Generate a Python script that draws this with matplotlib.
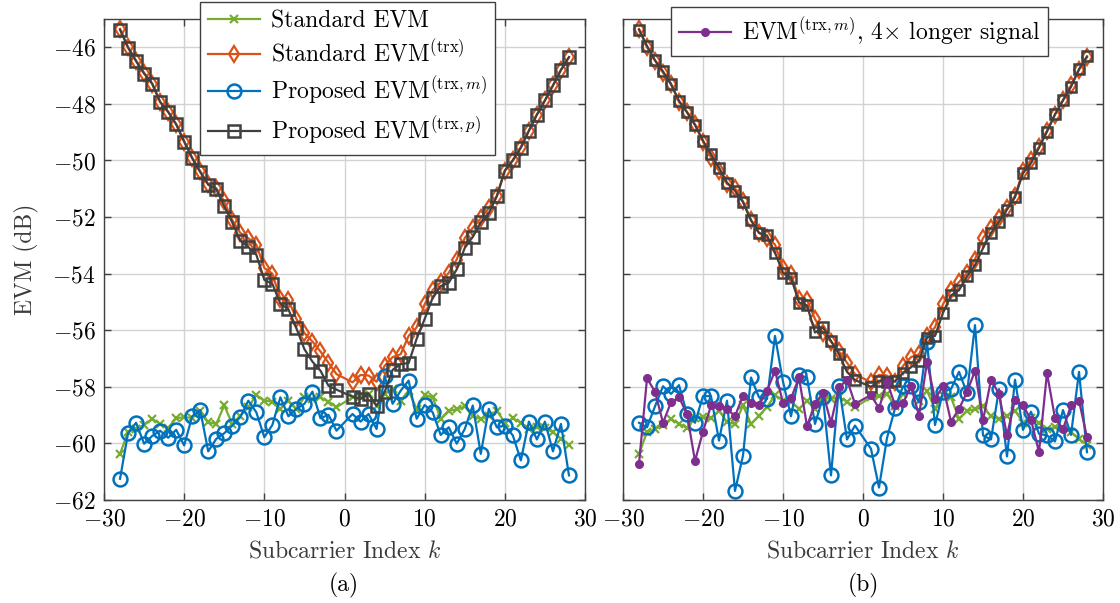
import matplotlib
matplotlib.use("Agg")
import matplotlib.pyplot as plt

FS = 17
plt.rcParams.update({
    "font.family": "serif",
    "font.serif": ["cmr10"],
    "mathtext.fontset": "cm",
    "axes.formatter.use_mathtext": True,
    "font.size": FS,
    "axes.unicode_minus": True,
})

# Subcarrier indices (DC subcarrier excluded)
subcarriers = list(range(-28, 0)) + list(range(1, 29))

# Standard EVM
evm_std = [-60.37, -59.60, -59.49, -59.35, -59.13, -59.31, -59.45, -59.11, -59.07, -59.10,
           -58.84, -59.25, -59.31, -58.66, -59.31, -59.02, -58.72, -58.29, -58.49, -58.52,
           -58.78, -58.49, -58.78, -58.37, -58.43, -58.37, -58.52, -58.72,
           -58.37, -58.31, -58.25, -58.69, -58.25, -58.08, -58.49, -58.14, -58.78, -58.29,
           -58.37, -59.13, -58.84, -58.80, -58.69, -59.04, -59.13, -59.04, -58.84, -59.27,
           -59.11, -59.27, -59.49, -59.43, -59.45, -59.60, -59.84, -60.05]

# Standard EVM^(trx)
evm_std_trx = [-45.35, -46.00, -46.47, -46.90, -47.28, -47.93, -48.28, -48.72, -49.33, -49.90,
               -50.38, -50.83, -50.98, -51.45, -52.10, -52.56, -52.75, -52.97, -53.80, -54.00,
               -54.90, -54.93, -55.60, -56.10, -56.40, -56.75, -57.15, -57.55,
               -57.84, -57.58, -57.60, -57.82, -57.26, -56.95, -56.85, -56.20, -55.90, -55.08,
               -54.58, -54.30, -53.97, -53.50, -52.74, -52.38, -52.05, -51.68, -51.25, -50.36,
               -49.98, -49.52, -48.95, -48.38, -47.88, -47.35, -46.80, -46.35]

# Proposed EVM^(trx,m), panel (a)
evm_prop_m = [-61.25, -59.64, -59.27, -60.01, -59.74, -59.55, -59.80, -59.52, -60.07, -59.04,
              -58.82, -60.28, -59.84, -59.64, -59.37, -59.07, -58.49, -58.90, -59.78, -59.35,
              -58.37, -59.04, -58.78, -58.60, -58.17, -59.11, -58.99, -59.55,
              -58.96, -59.23, -58.96, -59.49, -57.61, -58.60, -58.14, -57.78, -59.13, -58.64,
              -58.90, -59.70, -59.43, -60.01, -59.49, -58.66, -60.37, -58.78, -59.43, -59.37,
              -59.72, -60.60, -59.23, -59.86, -59.23, -60.28, -59.31, -61.13]

# Proposed EVM^(trx,p), panel (a)
evm_prop_p = [-45.38, -46.01, -46.49, -46.93, -47.28, -47.93, -48.28, -48.72, -49.33, -49.92,
              -50.41, -50.86, -51.01, -51.62, -52.19, -52.83, -53.06, -53.33, -54.22, -54.36,
              -55.06, -55.26, -55.93, -56.67, -57.11, -57.43, -57.96, -58.10,
              -58.35, -58.43, -58.25, -58.67, -58.19, -57.40, -57.20, -57.16, -56.30, -55.60,
              -54.85, -54.44, -54.32, -53.85, -53.09, -52.70, -52.19, -51.86, -51.27, -50.36,
              -50.00, -49.55, -48.95, -48.38, -47.88, -47.35, -46.80, -46.35]

# Proposed EVM^(trx,m), panel (b)
evm_prop_m_b = [-59.27, -59.43, -58.69, -57.98, -58.25, -57.94, -58.96, -59.27, -58.33, -58.33,
                -59.90, -58.49, -61.68, -60.43, -57.67, -58.37, -58.43, -56.20, -57.82, -59.04,
                -57.58, -57.67, -59.31, -58.37, -61.13, -57.98, -59.86, -59.37,
                -60.19, -61.56, -59.81, -58.76, -57.98, -57.98, -58.55, -56.41, -59.35, -58.17,
                -58.08, -57.47, -58.22, -55.82, -59.72, -59.86, -58.08, -60.46, -57.75, -59.52,
                -58.88, -59.66, -59.72, -59.93, -58.82, -59.70, -57.47, -60.31]

# Proposed EVM^(trx,p), panel (b)
evm_prop_p_b = [-45.38, -45.95, -46.46, -46.85, -47.31, -47.89, -48.30, -48.75, -49.30, -49.78,
                -50.25, -50.78, -51.07, -51.47, -52.12, -52.56, -52.65, -53.26, -53.97, -54.14,
                -55.02, -55.12, -56.08, -55.90, -56.38, -56.85, -57.47, -57.76,
                -58.00, -57.79, -57.82, -57.81, -57.51, -57.31, -57.08, -56.26, -56.20, -55.38,
                -54.77, -54.58, -54.10, -53.70, -53.10, -52.56, -52.17, -51.74, -51.30, -50.45,
                -50.10, -49.55, -48.98, -48.37, -47.87, -47.40, -46.77, -46.32]

# EVM^(trx,m) with a 4x longer signal
evm_prop_m_long = [-60.72, -57.70, -58.17, -59.27, -58.55, -58.37, -58.96, -60.62, -59.58, -58.66,
                   -58.69, -58.78, -59.04, -58.31, -58.57, -58.64, -58.14, -57.43, -58.57, -58.41,
                   -57.67, -59.39, -58.60, -58.22, -59.27, -58.02, -57.75, -58.60,
                   -58.29, -58.76, -57.82, -58.64, -58.57, -57.98, -59.02, -57.12, -58.43, -57.98,
                   -59.23, -58.78, -58.19, -57.43, -59.19, -57.75, -58.25, -59.72, -58.45, -58.66,
                   -59.16, -60.31, -57.51, -59.11, -59.49, -58.66, -58.49, -59.78]

x_ticks = [-30, -20, -10, 0, 10, 20, 30]
y_ticks = [-62, -60, -58, -56, -54, -52, -50, -48, -46]

GREEN = "#77AC30"
ORANGE = "#D95319"
BLUE = "#0072BD"
DARK = "#404040"
PURPLE = "#7E2F8E"
LW = 1.6

W, H = 1120, 603
fig = plt.figure(figsize=(W / 100, H / 100), dpi=100)
ax_a = fig.add_axes([104 / W, 103 / H, 481 / W, 481 / H])
ax_b = fig.add_axes([623 / W, 103 / H, 480 / W, 481 / H])


def style_axes(ax, show_ylabels):
    ax.set_xlim(-30, 30)
    ax.set_ylim(-62, -45)
    ax.set_xticks(x_ticks)
    ax.set_yticks(y_ticks)
    ax.grid(True, color="#d2d2d2", linewidth=1.0)
    ax.set_axisbelow(True)
    for sp in ax.spines.values():
        sp.set_color(DARK)
        sp.set_linewidth(1.0)
    ax.tick_params(direction="in", length=5, width=1.0, color=DARK,
                   top=True, right=True, labelsize=FS, pad=6)
    if not show_ylabels:
        ax.tick_params(labelleft=False)
    ax.set_xlabel("Subcarrier Index $k$", color="#3a3a3a", labelpad=7)


def plot_std(ax, with_labels):
    ax.plot(subcarriers, evm_std, color=GREEN, lw=LW, marker="x", ms=6, mew=1.6,
            label="Standard EVM" if with_labels else "_nolegend_")
    ax.plot(subcarriers, evm_std_trx, color=ORANGE, lw=LW, marker="d", ms=8, mew=1.6,
            mfc="none",
            label=r"Standard EVM$^{(\mathrm{trx})}$" if with_labels else "_nolegend_")


# Panel (a)
style_axes(ax_a, True)
plot_std(ax_a, True)
ax_a.plot(subcarriers, evm_prop_m, color=BLUE, lw=LW, marker="o", ms=10, mew=1.8,
          mfc="none", label=r"Proposed EVM$^{(\mathrm{trx},m)}$")
ax_a.plot(subcarriers, evm_prop_p, color=DARK, lw=LW, marker="s", ms=8.5, mew=1.8,
          mfc="none", label=r"Proposed EVM$^{(\mathrm{trx},p)}$")
ax_a.set_ylabel("EVM (dB)", color="#3a3a3a", labelpad=10)
leg_a = ax_a.legend(loc="upper left", bbox_to_anchor=(200 / W, 1 - 2 / H),
                    bbox_transform=fig.transFigure, borderaxespad=0,
                    fancybox=False, framealpha=1, edgecolor=DARK,
                    handlelength=2.2, labelspacing=0.32, borderpad=0.35,
                    handletextpad=0.45, fontsize=FS)
leg_a.get_frame().set_linewidth(1.0)

# Panel (b)
style_axes(ax_b, False)
plot_std(ax_b, False)
ax_b.plot(subcarriers, evm_prop_m_b, color=BLUE, lw=LW, marker="o", ms=10, mew=1.8,
          mfc="none")
ax_b.plot(subcarriers, evm_prop_p_b, color=DARK, lw=LW, marker="s", ms=7.5, mew=1.8,
          mfc="none")
ax_b.plot(subcarriers, evm_prop_m_long, color=PURPLE, lw=LW, marker="o", ms=5.5,
          label=r"EVM$^{(\mathrm{trx},m)}$, 4$\times$ longer signal")
leg_b = ax_b.legend(loc="upper left", bbox_to_anchor=(671 / W, 1 - 7 / H),
                    bbox_transform=fig.transFigure, borderaxespad=0,
                    fancybox=False, framealpha=1, edgecolor=DARK,
                    handlelength=2.2, borderpad=0.35, handletextpad=0.45, fontsize=FS)
leg_b.get_frame().set_linewidth(1.0)

fig.text(344 / W, 1 - 585 / H, "(a)", ha="center", va="center", fontsize=FS)
fig.text(863 / W, 1 - 585 / H, "(b)", ha="center", va="center", fontsize=FS)

fig.savefig("out.png", dpi=100)
